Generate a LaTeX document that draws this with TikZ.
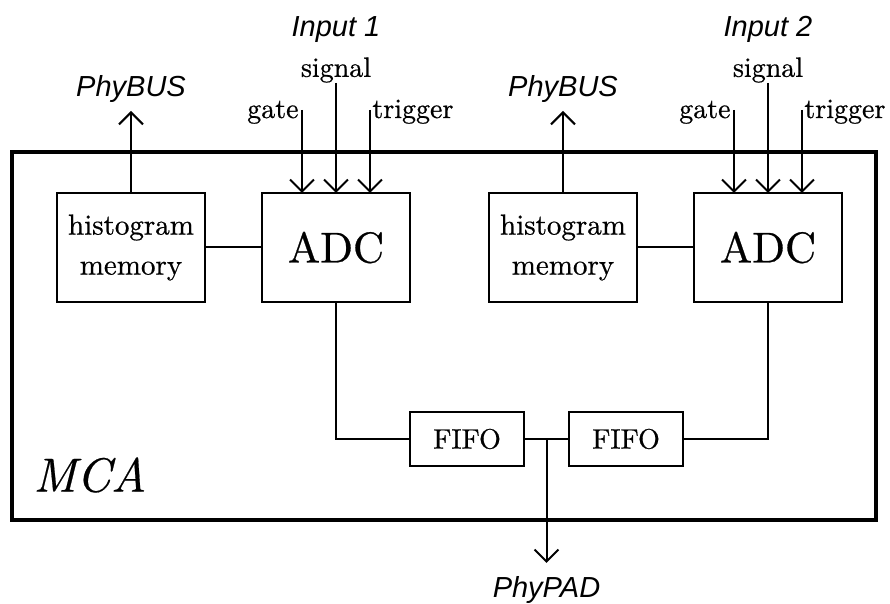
\documentclass[tikz,border=0pt]{standalone}
\usepackage{fontspec}
\usepackage{tikz}
\usetikzlibrary{positioning, arrows.meta, calc, fit}
\newfontfamily\busfont{Liberation Sans}
\newfontfamily\boxfont{lmroman10-regular}[Extension=.otf, FakeBold=0.6]
\newfontfamily\namefont{lmroman10-italic}[Extension=.otf, FakeBold=0.4]

\begin{document}
\begin{tikzpicture}[
        node distance = 28.5pt,
        block/.style = {draw, line width=1pt, outer sep=0pt, minimum width=74pt, minimum height=54.5pt, align=center},
        mem/.style   = {block, font=\boxfont\fontsize{14.5}{20}\selectfont},
        adc/.style   = {block, font=\boxfont\fontsize{21.5}{24}\selectfont},
        fifo/.style  = {draw, line width=1pt, outer sep=0pt, minimum width=57pt, minimum height=27pt, font=\boxfont\fontsize{14}{16}\selectfont},
        sig/.style   = {font=\boxfont\fontsize{14}{16}\selectfont, inner sep=0pt},
        ext/.style   = {font=\busfont\itshape\fontsize{14.5}{17}\selectfont, inner sep=4pt},
        frame/.style = {draw, line width=2pt, inner sep=0pt, outer sep=0pt},
        arrow/.style = {-{Straight Barb[length=6pt, width=12pt]}, line width=1pt},
        wire/.style  = {line width=1pt},
    ]
        \useasboundingbox (0,0) rectangle (445pt,302pt);
        \node[mem] (hist1) at (65.5pt,178.25pt) {histogram\\memory};
        \node[adc, right=of hist1] (adc1) {ADC};
        \node[mem, right=39.5pt of adc1] (hist2) {histogram\\memory};
        \node[adc, right=of hist2] (adc2) {ADC};
        \node[fifo, below=55pt of adc1.south east, anchor=north west] (fifo1) {FIFO};
        \node[fifo, right=22.5pt of fifo1] (fifo2) {FIFO};

        % MCA frame
        \coordinate (frametl) at ($(hist1.north west)+(-22.5pt,20.5pt)$);
        \coordinate (framebr) at ($(adc2.east |- fifo1.south)+(17pt,-27pt)$);
        \node[frame, fit=(frametl)(framebr)] (mca) {};
        \node[anchor=west, inner sep=0pt, font=\namefont\fontsize{24}{28}\selectfont] (mcaname) at ($(mca.south west)+(10.5pt,22.5pt)$) {MCA};

        % bus outputs
        \node[ext, above=41pt of hist1] (bus1) {PhyBUS};
        \node[ext, above=41pt of hist2] (bus2) {PhyBUS};
        \draw[arrow] (hist1) -- (bus1);
        \draw[arrow] (hist2) -- (bus2);
        \draw[wire] (hist1) -- (adc1);
        \draw[wire] (hist2) -- (adc2);

        % input 1
        \coordinate (gate1) at ($(adc1.north)+(-17pt,41.5pt)$);
        \coordinate (signal1) at ($(adc1.north)+(0pt,55pt)$);
        \coordinate (trig1) at ($(adc1.north)+(17pt,41.5pt)$);
        \node[sig, anchor=base east] (gatename1) at ($(gate1)+(-1.5pt,-4pt)$) {gate};
        \node[sig, above=0pt of signal1] (signalname1) {signal};
        \node[sig, anchor=base west] (trigname1) at ($(trig1)+(1pt,-4pt)$) {trigger};
        \node[ext, anchor=base, inner sep=0pt] (input1) at ($(signalname1.north)+(0pt,10pt)$) {Input 1};
        \draw[arrow] (gate1) -- (gate1 |- adc1.north);
        \draw[arrow] (signal1) -- (signal1 |- adc1.north);
        \draw[arrow] (trig1) -- (trig1 |- adc1.north);

        % input 2
        \coordinate (gate2) at ($(adc2.north)+(-17pt,41.5pt)$);
        \coordinate (signal2) at ($(adc2.north)+(0pt,55pt)$);
        \coordinate (trig2) at ($(adc2.north)+(17pt,41.5pt)$);
        \node[sig, anchor=base east] (gatename2) at ($(gate2)+(-1.5pt,-4pt)$) {gate};
        \node[sig, above=0pt of signal2] (signalname2) {signal};
        \node[sig, anchor=base west] (trigname2) at ($(trig2)+(1pt,-4pt)$) {trigger};
        \node[ext, anchor=base, inner sep=0pt] (input2) at ($(signalname2.north)+(0pt,10pt)$) {Input 2};
        \draw[arrow] (gate2) -- (gate2 |- adc2.north);
        \draw[arrow] (signal2) -- (signal2 |- adc2.north);
        \draw[arrow] (trig2) -- (trig2 |- adc2.north);

        % FIFOs and PAD output
        \draw[wire] (adc1.south) |- (fifo1.west);
        \draw[wire] (adc2.south) |- (fifo2.east);
        \draw[wire] (fifo1.east) -- (fifo2.west);
        \coordinate (fifomid) at ($(fifo1.east)!.5!(fifo2.west)$);
        \coordinate[below=62pt of fifomid] (padend);
        \draw[arrow] (fifomid) -- (padend);
        \node[ext, anchor=base, inner sep=0pt] (pad) at ($(padend)+(0pt,-17.5pt)$) {PhyPAD};
    \end{tikzpicture}
\end{document}
